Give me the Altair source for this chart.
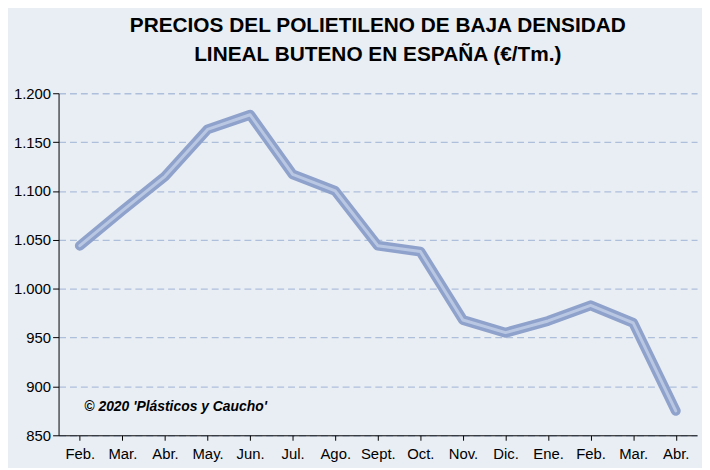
import altair as alt
import pandas as pd

meses = ["Feb.", "Mar.", "Abr.", "May.", "Jun.", "Jul.", "Ago.", "Sept.", "Oct.",
         "Nov.", "Dic.", "Ene.", "Feb.", "Mar.", "Abr."]
precios = [1044, 1080, 1115, 1163, 1178, 1117, 1100, 1044, 1038, 968, 955, 967, 983, 965, 875]

df = pd.DataFrame({"i": list(range(len(meses))), "mes": meses, "precio": precios})
label_expr = "[" + ",".join(f"'{m}'" for m in meses) + "][datum.value]"

x = alt.X("i:O", title=None,
          axis=alt.Axis(labelExpr=label_expr, labelAngle=0, labelFontSize=15,
                        labelColor="#000", domainColor="#000", tickColor="#000",
                        labelFont="Liberation Sans", labelPadding=6))
y = alt.Y("precio:Q", title=None,
          scale=alt.Scale(domain=[850, 1200], nice=False),
          axis=alt.Axis(values=list(range(850, 1201, 50)), format=",.0f",
                        labelFontSize=15, labelColor="#000", domainColor="#000",
                        tickColor="#000", tickSize=6, gridDash=[7, 4], gridColor="#aebfdb",
                        gridWidth=1.3,
                        labelFont="Liberation Sans", labelExpr="replace(datum.label, ',', '.')"))

base = alt.Chart(df).encode(x=x, y=y)
outer = base.mark_line(color="#8fa2cb", strokeWidth=10, strokeCap="round", strokeJoin="round")
inner = base.mark_line(color="#b9c7e3", strokeWidth=3, strokeCap="round", strokeJoin="round")

nota = alt.Chart(pd.DataFrame({"t": ["© 2020 'Plásticos y Caucho'"]})).mark_text(
    align="left", fontStyle="italic", fontWeight="bold", fontSize=14,
    font="Liberation Sans", color="#000"
).encode(x=alt.value(26), y=alt.value(316), text="t:N")

chart = (outer + inner + nota).properties(
    width=700, height=460,
    autosize=alt.AutoSizeParams(type="fit", contains="padding"),
    background="#e9eef4",
    title=alt.TitleParams(["PRECIOS DEL POLIETILENO DE BAJA DENSIDAD",
                           "LINEAL BUTENO EN ESPAÑA (€/Tm.)"],
                          fontSize=21, fontWeight="bold", font="Liberation Sans",
                          color="#000", anchor="middle", lineHeight=29, offset=22)
).configure_view(stroke=None).configure_axisX(grid=False)

chart.save("out.html", embed_options={"renderer": "svg", "actions": False})
